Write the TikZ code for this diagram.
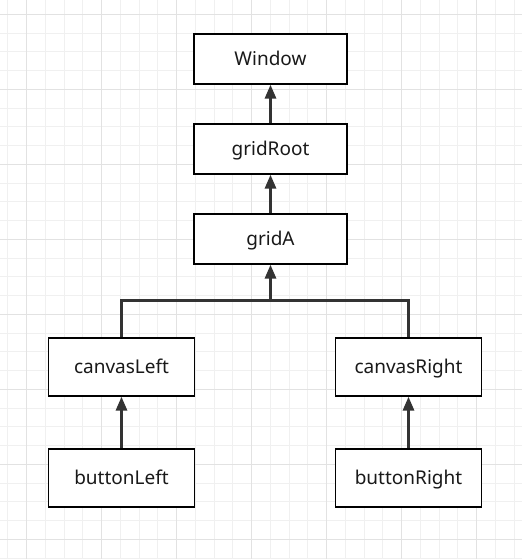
\documentclass[tikz,border=0pt]{standalone}
\usepackage{fontspec}
\setmainfont{Noto Sans}
\usetikzlibrary{arrows.meta}
\definecolor{gridlight}{HTML}{F0F0F0}
\definecolor{griddark}{HTML}{E2E2E2}
\definecolor{inkgray}{HTML}{333333}
\tikzset{
  classbox/.style={draw=black, line width=1.3pt, fill=white, minimum width=153pt, minimum height=50pt, inner sep=0pt, text depth=0pt, text height=13pt, font=\fontsize{19}{21}\selectfont, text=black!90},
  leafbox/.style={classbox, minimum width=146pt, minimum height=58pt},
  parentlink/.style={draw=inkgray, line width=3pt, -{Triangle[length=14pt,width=11pt]}},
  forkline/.style={draw=inkgray, line width=3pt}
}
\begin{document}
\begin{tikzpicture}[x=1pt, y=-1pt]
		\useasboundingbox (0,0) rectangle (522,559);
		\fill[white] (0,0) rectangle (522,559);
		% background grid
		\foreach \k in {0,...,27}
			\draw[gridlight, line width=1pt] ({7.9+18.75*\k},0) -- ({7.9+18.75*\k},559);
		\foreach \k in {0,...,29}
			\draw[gridlight, line width=1pt] (0,{14.3+18.75*\k}) -- (522,{14.3+18.75*\k});
		\foreach \k in {0,...,6}
			\draw[griddark, line width=1pt] ({26.7+75*\k},0) -- ({26.7+75*\k},559);
		\foreach \k in {0,...,7}
			\draw[griddark, line width=1pt] (0,{14.3+75*\k}) -- (522,{14.3+75*\k});
		% classes
		\node[classbox] (window) at (270.5,59) {Window};
		\node[classbox] (gridRoot) at (270.5,149) {gridRoot};
		\node[classbox] (gridA) at (270.5,239) {gridA};
		\node[leafbox] (canvasLeft) at (121.5,367) {canvasLeft};
		\node[leafbox] (canvasRight) at (408.5,367) {canvasRight};
		\node[leafbox] (buttonLeft) at (121.5,478) {buttonLeft};
		\node[leafbox] (buttonRight) at (408.5,478) {buttonRight};
		\coordinate (fork) at (270.5,300);
		% links
		\draw[parentlink] (gridRoot.north) -- (window.south);
		\draw[parentlink] (gridA.north) -- (gridRoot.south);
		\draw[forkline] (canvasLeft.north) |- (fork) -| (canvasRight.north);
		\draw[parentlink] (fork) -- (gridA.south);
		\draw[parentlink] (buttonLeft.north) -- (canvasLeft.south);
		\draw[parentlink] (buttonRight.north) -- (canvasRight.south);
		\end{tikzpicture}
\end{document}
